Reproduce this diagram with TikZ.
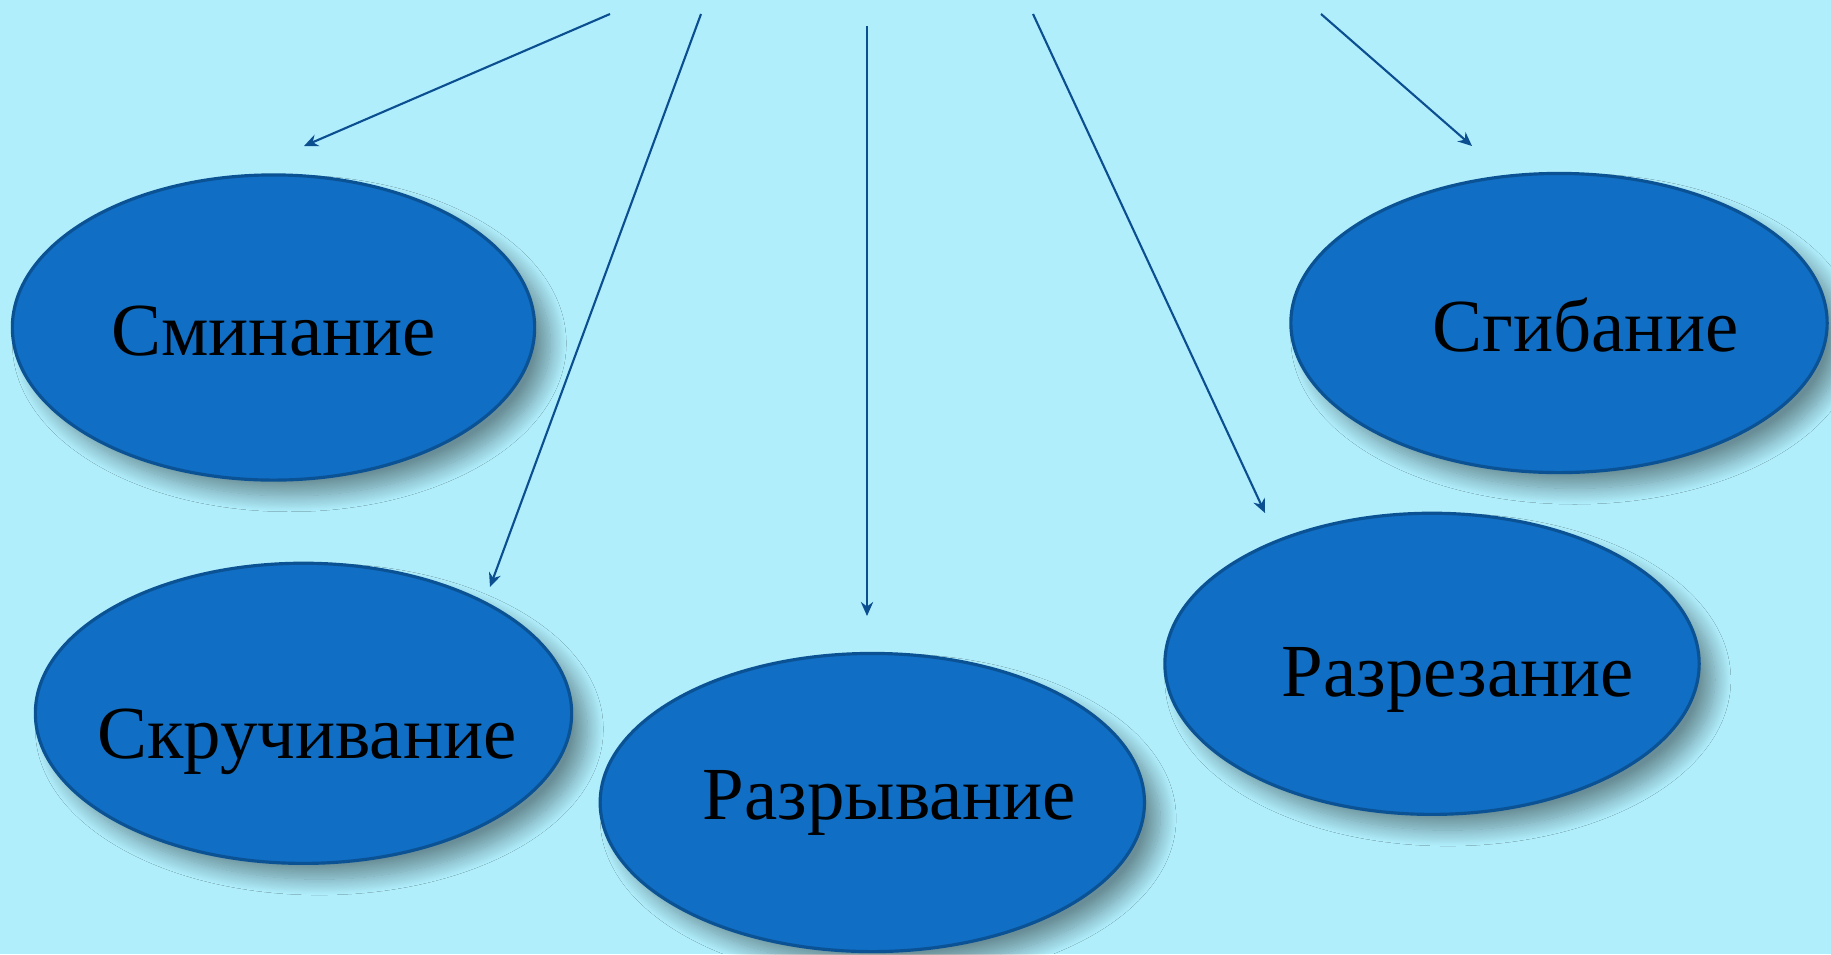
\documentclass[tikz,border=0pt]{standalone}
\usepackage{fontspec}
\setmainfont{Liberation Serif}
\usetikzlibrary{arrows.meta,shapes.geometric,shadows.blur}

\definecolor{skybg}{HTML}{B0EEFC}
\definecolor{ovalfill}{HTML}{106EC4}
\definecolor{ovaledge}{HTML}{0B5294}
\definecolor{arrowline}{HTML}{0B4F91}

\tikzset{
    oval/.style={ellipse, draw=ovaledge, line width=0.9pt, fill=ovalfill, inner sep=0pt,
        blur shadow={shadow xshift=4.5pt, shadow yshift=-4.5pt, shadow blur radius=4.5pt,
            shadow blur steps=20, shadow opacity=40}},
    word/.style={anchor=base, inner sep=0pt, font=\fontsize{21.3pt}{25pt}\selectfont},
    pointer/.style={draw=arrowline, line width=0.6pt, -{Stealth[length=4pt, width=3.5pt]}}
}

\begin{document}
\begin{tikzpicture}[x=0.01cm, y=-0.01cm]
    % Background
    \fill[skybg] (0,0) rectangle (1831,954);
    \useasboundingbox (0,0) rectangle (1831,954);

    % Draw ellipses
    \node[oval, minimum width=5.22cm, minimum height=3.05cm] (smin) at (273.5,327.5) {};
    \node[oval, minimum width=5.36cm, minimum height=3.00cm] (skru) at (303.5,713.3) {};
    \node[oval, minimum width=5.44cm, minimum height=2.98cm] (razr) at (872.3,802.5) {};
    \node[oval, minimum width=5.34cm, minimum height=3.01cm] (rezn) at (1432,663.8) {};
    \node[oval, minimum width=5.36cm, minimum height=2.99cm] (sgib) at (1559,323) {};

    % Label the ellipses
    \node[word] (tsmin) at (273.6,355) {Сминание};
    \node[word] (tskru) at (307,758.3) {Скручивание};
    \node[word] (trazr) at (889.5,819) {Разрывание};
    \node[word] (trezn) at (1458,696) {Разрезание};
    \node[word] (tsgib) at (1585.6,351.7) {Сгибание};

    % Arrow ends
    \coordinate (s1) at (610,14);   \coordinate (e1) at (304,146);
    \coordinate (s2) at (701,14);   \coordinate (e2) at (490,587);
    \coordinate (s3) at (867,26);   \coordinate (e3) at (867,616);
    \coordinate (s4) at (1033,14);  \coordinate (e4) at (1265,513);
    \coordinate (s5) at (1321,14);  \coordinate (e5) at (1472,146);

    % Draw arrows
    \foreach \i in {1,...,5}
        \draw[pointer] (s\i) -- (e\i);
\end{tikzpicture}
\end{document}
